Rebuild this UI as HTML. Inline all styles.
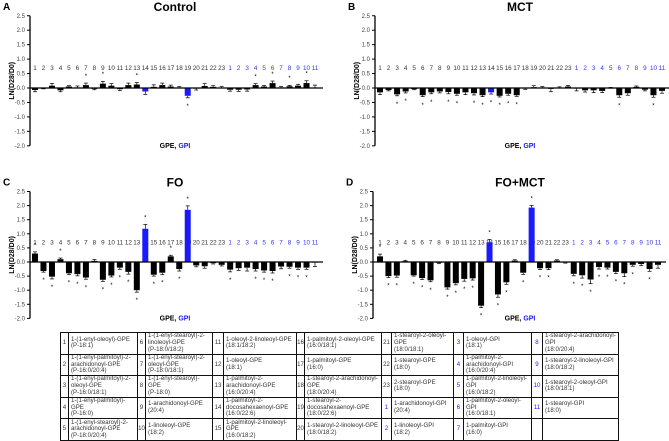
<!DOCTYPE html>
<html><head><meta charset="utf-8">
<style>
html,body{margin:0;padding:0;background:#fff;}
body{width:669px;height:441px;position:relative;overflow:hidden;font-family:"Liberation Sans",Arial,sans-serif;}
svg{position:absolute;left:0;top:0;}
table{position:absolute;left:60px;top:332px;width:558px;height:108px;border-collapse:collapse;table-layout:fixed;font-size:6.1px;line-height:6.7px;color:#333;background:#fff;}
tr{height:21.6px;}
td{border:0.8px solid #111;padding:0 1px 0 2px;vertical-align:middle;overflow:hidden;}
td.n{text-align:center;padding:0;}
td.b{color:#1a1aff;}
</style></head><body>
<svg id="chart" width="669" height="441" viewBox="0 0 669 441"></svg>
<table>
<colgroup><col style="width:8px"><col style="width:69px"><col style="width:8px"><col style="width:67px"><col style="width:11px"><col style="width:73px"><col style="width:8px"><col style="width:77px"><col style="width:10px"><col style="width:62px"><col style="width:10px"><col style="width:68px"><col style="width:11px"><col style="width:76px"></colgroup>
<tr><td class="n">1</td><td>1-(1-enyl-oleoyl)-GPE<br>(P-18:1)</td><td class="n">6</td><td>1-(1-enyl-stearoyl)-2-linoleoyl-GPE<br>(P-18:0/18:2)</td><td class="n">11</td><td>1-oleoyl-2-linoleoyl-GPE<br>(18:1/18:2)</td><td class="n">16</td><td>1-palmitoyl-2-oleoyl-GPE<br>(16:0/18:1)</td><td class="n">21</td><td>1-stearoyl-2-oleoyl-GPE<br>(18:0/18:1)</td><td class="n b">3</td><td>1-oleoyl-GPI<br>(18:1)</td><td class="n b">8</td><td>1-stearoyl-2-arachidonoyl-GPI<br>(18:0/20:4)</td></tr>
<tr><td class="n">2</td><td>1-(1-enyl-palmitoyl)-2-arachidonoyl-GPE<br>(P-16:0/20:4)</td><td class="n">7</td><td>1-(1-enyl-stearoyl)-2-oleoyl-GPE<br>(P-18:0/18:1)</td><td class="n">12</td><td>1-oleoyl-GPE<br>(18:1)</td><td class="n">17</td><td>1-palmitoyl-GPE<br>(16:0)</td><td class="n">22</td><td>1-stearoyl-GPE<br>(18:0)</td><td class="n b">4</td><td>1-palmitoyl-2-arachidonoyl-GPI<br>(16:0/20:4)</td><td class="n b">9</td><td>1-stearoyl-2-linoleoyl-GPI<br>(18:0/18:2)</td></tr>
<tr><td class="n">3</td><td>1-(1-enyl-palmitoyl)-2-oleoyl-GPE<br>(P-16:0/18:1)</td><td class="n">8</td><td>1-(1-enyl-stearoyl)-GPE<br>(P-18:0)</td><td class="n">13</td><td>1-palmitoyl-2-arachidonoyl-GPE<br>(16:0/20:4)</td><td class="n">18</td><td>1-stearoyl-2-arachidonoyl-GPE<br>(18:0/20:4)</td><td class="n">23</td><td>2-stearoyl-GPE<br>(18:0)</td><td class="n b">5</td><td>1-palmitoyl-2-linoleoyl-GPI<br>(16:0/18:2)</td><td class="n b">10</td><td>1-stearoyl-2-oleoyl-GPI<br>(18:0/18:1)</td></tr>
<tr><td class="n">4</td><td>1-(1-enyl-palmitoyl)-GPE<br>(P-16:0)</td><td class="n">9</td><td>1-arachidonoyl-GPE<br>(20:4)</td><td class="n">14</td><td>1-palmitoyl-2-docosahexaenoyl-GPE<br>(16:0/22:6)</td><td class="n">19</td><td>1-stearoyl-2-docosahexaenoyl-GPE<br>(18:0/22:6)</td><td class="n b">1</td><td>1-arachidonoyl-GPI<br>(20:4)</td><td class="n b">6</td><td>1-palmitoyl-2-oleoyl-GPI<br>(16:0/18:1)</td><td class="n b">11</td><td>1-stearoyl-GPI<br>(18:0)</td></tr>
<tr><td class="n">5</td><td>1-(1-enyl-stearoyl)-2-arachidonoyl-GPE<br>(P-18:0/20:4)</td><td class="n">10</td><td>1-linoleoyl-GPE<br>(18:2)</td><td class="n">15</td><td>1-palmitoyl-2-linoleoyl-GPE<br>(16:0/18:2)</td><td class="n">20</td><td>1-stearoyl-2-linoleoyl-GPE<br>(18:0/18:2)</td><td class="n b">2</td><td>1-linoleoyl-GPI<br>(18:2)</td><td class="n b">7</td><td>1-palmitoyl-GPI<br>(16:0)</td><td></td><td></td></tr>
</table>
<script>
const categories = ["1","2","3","4","5","6","7","8","9","10","11","12","13","14","15","16","17","18","19","20","21","22","23","1","2","3","4","5","6","7","8","9","10","11"];
const yTicks = [2.5,2.0,1.5,1.0,0.5,0.0,-0.5,-1.0,-1.5,-2.0];
const yTickLabels = ["2.5","2.0","1.5","1.0","0.5","0.0","-0.5","-1.0","-1.5","-2.0"];
const controlValues = [-0.07,-0.01,0.08,-0.08,0.05,0.02,0.10,-0.03,0.15,0.08,-0.04,0.10,0.12,-0.12,0.04,0.10,0.05,0.02,-0.27,-0.02,0.07,0.04,0.01,-0.06,-0.06,-0.05,0.10,0.05,0.17,0.02,0.06,0.08,0.17,0.01];
const controlErr = [0.06,0.02,0.08,0.05,0.03,0.05,0.07,0.03,0.08,0.07,0.05,0.07,0.07,0.10,0.07,0.07,0.05,0.03,0.07,0.05,0.08,0.04,0.04,0.05,0.06,0.06,0.05,0.04,0.07,0.03,0.03,0.05,0.08,0.09];
const controlSig = [0,0,0,0,0,0,1,0,1,0,0,0,1,0,0,0,0,0,1,0,0,0,0,0,0,0,1,0,1,0,1,0,1,0];
const mctValues = [-0.15,-0.07,-0.22,-0.12,-0.04,-0.25,-0.15,-0.12,-0.14,-0.20,-0.15,-0.18,-0.25,-0.15,-0.27,-0.20,-0.25,-0.02,0.03,0.02,-0.03,0.01,0.05,-0.02,-0.08,-0.08,-0.10,0.00,-0.25,-0.18,0.04,-0.06,-0.25,-0.10];
const mctErr = [0.08,0.03,0.05,0.05,0.02,0.05,0.05,0.05,0.06,0.05,0.08,0.06,0.05,0.06,0.04,0.05,0.04,0.03,0.05,0.03,0.10,0.03,0.04,0.08,0.06,0.08,0.06,0.02,0.07,0.07,0.03,0.04,0.07,0.08];
const mctSig = [0,0,1,1,0,1,1,0,1,1,0,1,1,1,1,1,1,0,0,0,0,0,0,0,0,0,0,0,1,0,0,0,1,0];
const foValues = [0.30,-0.32,-0.52,0.10,-0.40,-0.43,-0.55,0.04,-0.63,-0.48,-0.20,-0.35,-1.00,1.18,-0.45,-0.38,0.20,-0.25,1.85,-0.12,-0.15,-0.04,-0.10,-0.27,-0.22,-0.20,-0.25,-0.30,-0.32,-0.16,-0.17,-0.20,-0.20,-0.02];
const foErr = [0.06,0.04,0.08,0.04,0.05,0.06,0.06,0.05,0.06,0.05,0.06,0.08,0.07,0.15,0.05,0.07,0.04,0.07,0.14,0.05,0.07,0.03,0.04,0.08,0.08,0.12,0.07,0.06,0.07,0.08,0.05,0.06,0.06,0.14];
const foSig = [1,1,1,1,1,1,1,0,1,1,1,1,1,1,1,1,1,1,1,0,0,0,0,1,0,0,1,1,1,0,1,1,1,0];
const fomctValues = [0.20,-0.50,-0.48,0.03,-0.47,-0.57,-0.65,-0.03,-0.90,-0.75,-0.60,-0.58,-1.55,0.70,-1.15,-0.72,0.05,-0.38,1.93,-0.22,-0.22,0.05,-0.02,-0.42,-0.47,-0.62,-0.18,-0.20,-0.35,-0.40,-0.10,-0.07,-0.25,-0.10];
const fomctErr = [0.08,0.05,0.06,0.03,0.03,0.05,0.05,0.03,0.06,0.06,0.08,0.06,0.07,0.10,0.10,0.07,0.03,0.06,0.08,0.05,0.05,0.03,0.02,0.07,0.10,0.15,0.07,0.05,0.06,0.12,0.05,0.06,0.08,0.12];
const fomctSig = [1,1,1,0,1,1,1,0,1,1,1,1,1,1,1,1,0,1,1,1,1,0,0,1,1,1,1,1,1,1,1,0,1,0];

const NS="http://www.w3.org/2000/svg";
const svg=document.getElementById('chart');
function mk(tag,attrs,parent){const e=document.createElementNS(NS,tag);for(const k in attrs)e.setAttribute(k,attrs[k]);(parent||svg).appendChild(e);return e;}

function drawPanel(p){
  const g=mk('g',{});
  
  
  const yS=v=>p.y0-v*p.k;
  const xS=i=>p.bx0+i*(p.bx1-p.bx0)/(categories.length-1);
  const L=mk('text',{x:p.ax-27,y:p.y0-p.k*2.5-6,'font-size':10,'font-weight':'bold',fill:'#000'},g);L.textContent=p.id;
  
  
  const T=mk('text',{x:p.tx,y:p.y0-p.k*2.5-5,'font-size':12,'font-weight':'bold','text-anchor':'middle',fill:'#000'},g);T.textContent=p.title;
  
  
  const ya=mk('line',{x1:p.ax,x2:p.ax,y1:yS(2.5),y2:yS(-2),stroke:'#000','stroke-width':1.3},g);
  
  
  yTicks.forEach((t,i)=>{
    mk('line',{x1:p.ax-3,x2:p.ax,y1:yS(t),y2:yS(t),stroke:'#000','stroke-width':1},g);
    const tl=mk('text',{x:p.ax-5,y:yS(t)+2,'font-size':6,'text-anchor':'end',fill:'#444'},g);tl.textContent=yTickLabels[i];
    
    
  });
  const yt=mk('text',{transform:`translate(${p.ax-16},${yS(0.25)}) rotate(-90)`,'font-size':7,'font-weight':'bold','text-anchor':'middle',fill:'#000'},g);yt.textContent='LN(D28/D0)';
  
  
  categories.forEach((c,i)=>{
    const t=mk('text',{x:xS(i),y:yS(0.7)+2,'font-size':6.3,'text-anchor':'middle',fill:i>=23?'#3333ee':'#333'},g);t.textContent=c;
    
    
  });
  const vals=p.values,err=p.err,sig=p.sig;
  vals.forEach((v,i)=>{
    const x=xS(i),bw=6;
    const blue=(i===13||i===18);
    const r=mk('rect',{x:x-bw/2,y:Math.min(yS(v),yS(0)),width:bw,height:Math.max(Math.abs(yS(v)-yS(0)),0.6),fill:blue?'#1a1aff':'#000'},g);
    
    
    const s=v>=0?1:-1;const ye=yS(v+s*err[i]);
    mk('line',{x1:x,x2:x,y1:yS(v),y2:ye,stroke:'#000','stroke-width':0.7},g);
    mk('line',{x1:x-2,x2:x+2,y1:ye,y2:ye,stroke:'#000','stroke-width':0.7},g);
    if(sig[i]){
      const ys=yS(v+s*(err[i]+0.25));
      const a=mk('text',{x:x,y:ys+(s>0?2:3),'font-size':6,'text-anchor':'middle',fill:'#000'},g);a.textContent='*';
      
      
    }
  });
  const xa=mk('line',{x1:p.ax,x2:p.bx1+8,y1:yS(0),y2:yS(0),stroke:'#000','stroke-width':1.3},g);
  
  
  const xt=mk('text',{x:p.tx,y:yS(-2)+2,'font-size':7,'font-weight':'bold','text-anchor':'middle',fill:'#000'},g);
  
  
  const s1=mk('tspan',{},xt);s1.textContent='GPE, ';
  const s2=mk('tspan',{fill:'#1a1aff'},xt);s2.textContent='GPI';
}
drawPanel({id:'A',title:'Control',ax:30,bx0:35,bx1:315,y0:88,k:28.9,tx:175,values:controlValues,err:controlErr,sig:controlSig});
drawPanel({id:'B',title:'MCT',ax:375,bx0:380,bx1:662,y0:88,k:28.9,tx:520,values:mctValues,err:mctErr,sig:mctSig});
drawPanel({id:'C',title:'FO',ax:30,bx0:35,bx1:315,y0:262,k:28.2,tx:175,values:foValues,err:foErr,sig:foSig});
drawPanel({id:'D',title:'FO+MCT',ax:373,bx0:380,bx1:658,y0:262,k:28.2,tx:520,values:fomctValues,err:fomctErr,sig:fomctSig});
</script>
</body></html>
